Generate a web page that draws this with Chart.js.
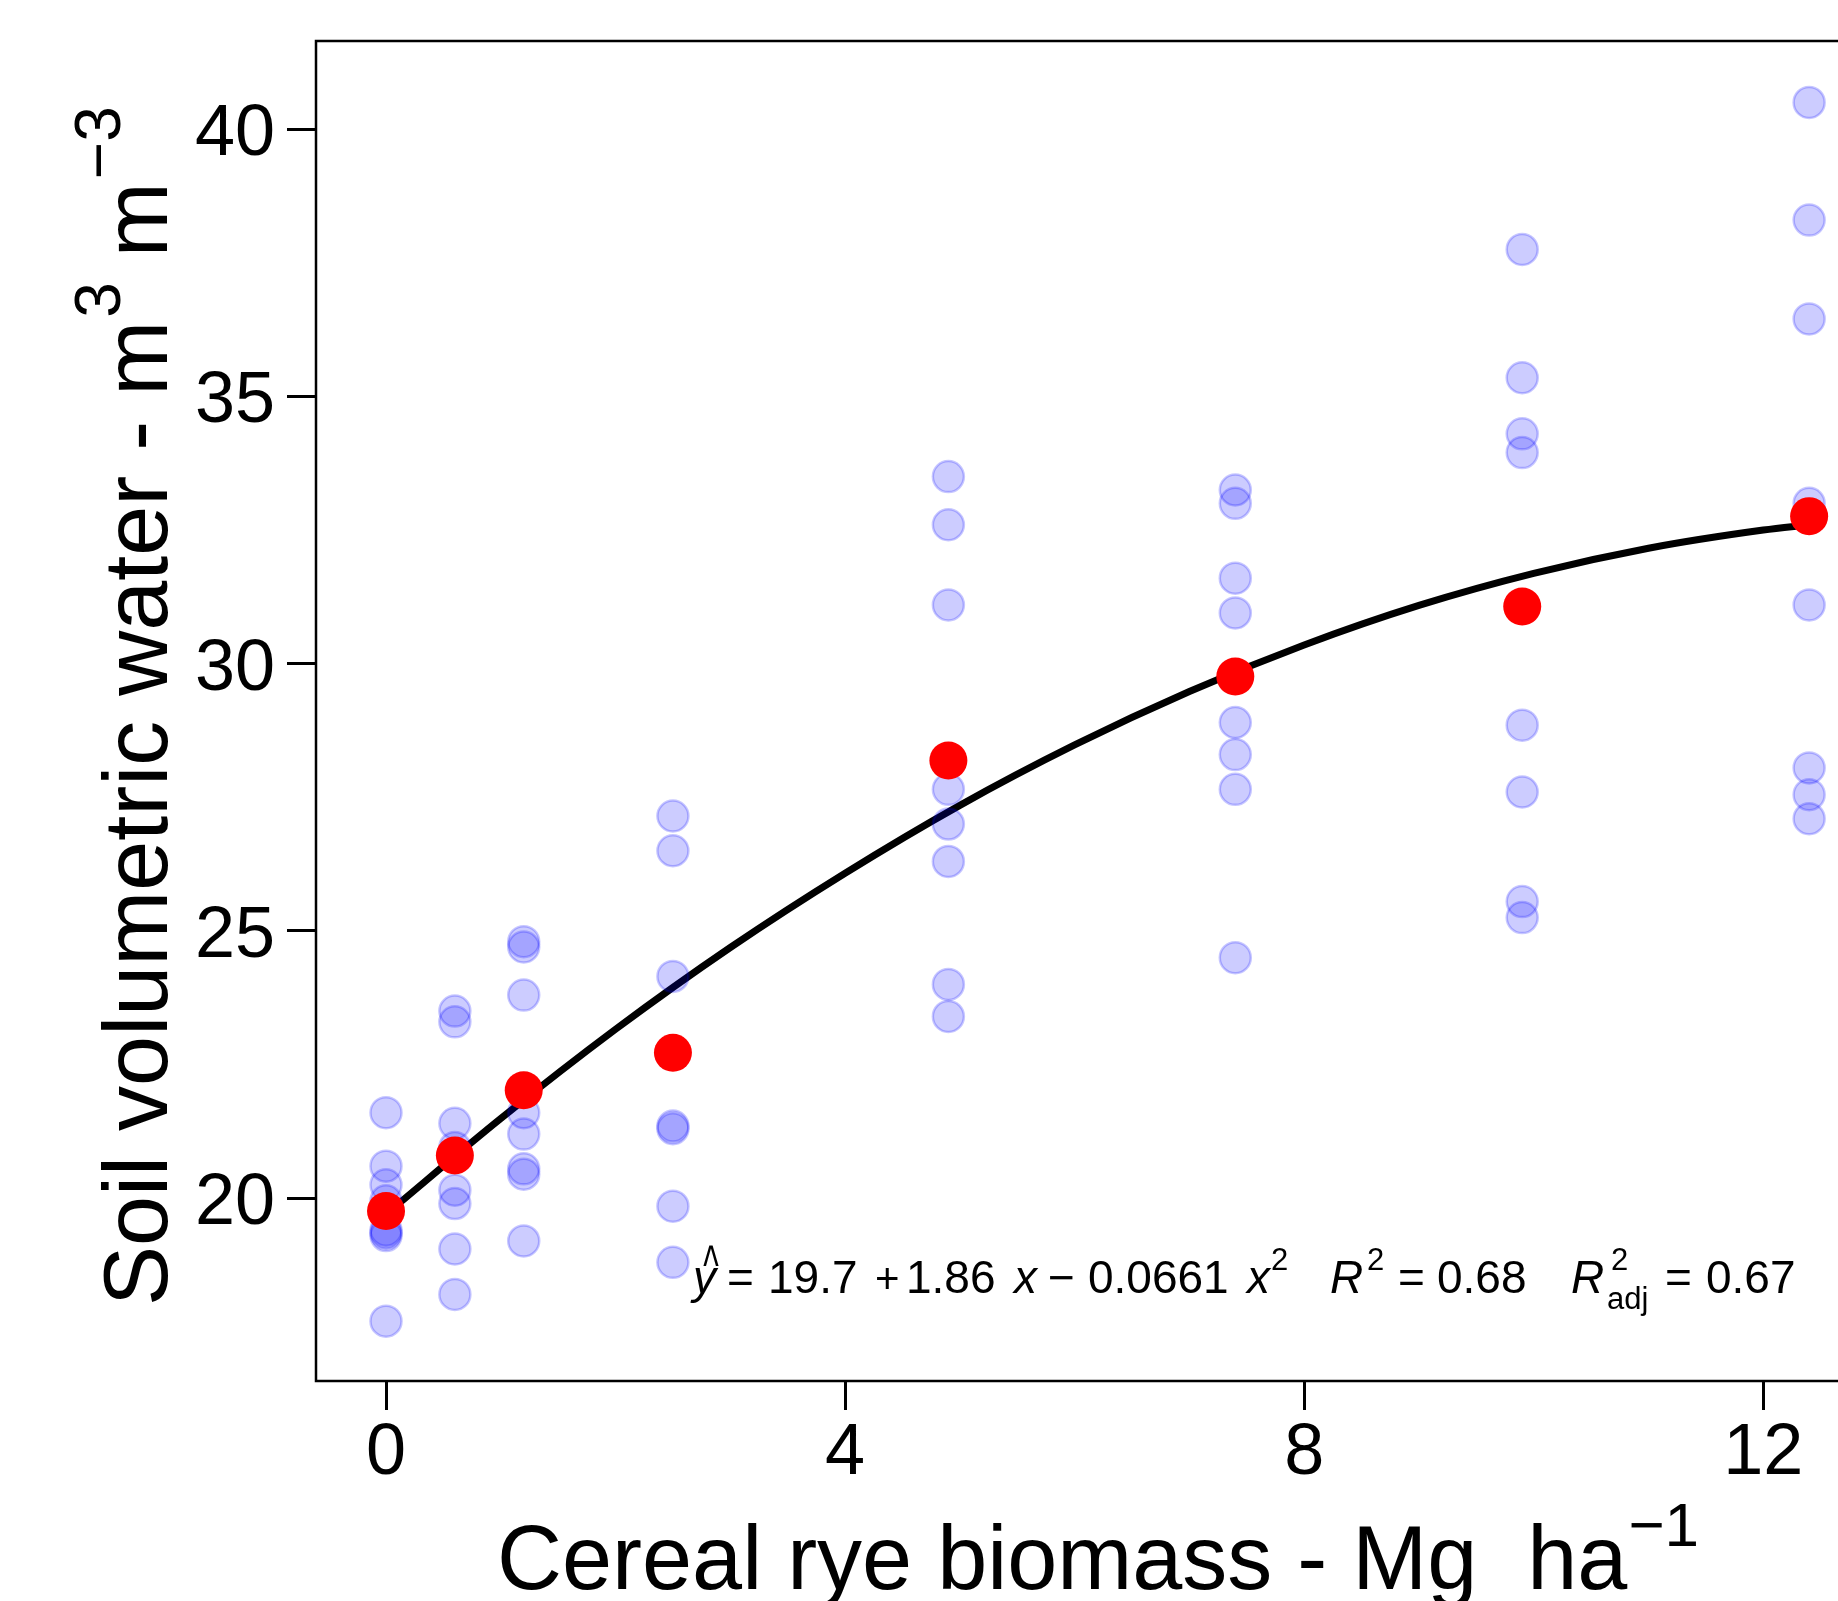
<!DOCTYPE html>
<html>
<head>
<meta charset="utf-8">
<script src="https://cdn.jsdelivr.net/npm/chart.js@4.4.1/dist/chart.umd.min.js"></script>
<style>
  html, body { margin: 0; padding: 0; background: #fff; overflow: hidden; }
  #wrap { width: 1880px; height: 1601px; }
</style>
</head>
<body>
<div id="wrap"><canvas id="chart" width="1880" height="1601"></canvas></div>
<script>
// biomass levels (Mg/ha)
const biomass = [0, 0.6, 1.2, 2.5, 4.9, 7.4, 9.9, 12.4];

// soil water readings per level (m3 m-3, %)
const obs00 = [21.6, 20.6, 20.25, 19.95, 19.4, 19.35, 19.3, 17.7];
const obs06 = [23.5, 23.3, 21.4, 20.95, 20.15, 19.9, 19.05, 18.2];
const obs12 = [24.8, 24.7, 23.8, 21.6, 21.2, 20.55, 20.45, 19.2];
const obs25 = [27.15, 26.5, 24.15, 22.7, 21.35, 21.3, 19.85, 18.8];
const obs49 = [33.5, 32.6, 31.1, 27.65, 27.0, 26.3, 24.0, 23.4];
const obs74 = [33.25, 33.0, 31.6, 30.95, 28.9, 28.3, 27.65, 24.5];
const obs99 = [37.75, 35.35, 34.3, 33.95, 28.85, 27.6, 25.55, 25.25];
const obs124 = [40.5, 38.3, 36.45, 33.0, 31.1, 28.05, 27.55, 27.1];

// level means (red dots)
const means = [19.76, 20.8, 22.02, 22.72, 28.19, 29.76, 31.07, 32.76];

// fitted quadratic
const fitX = [0, 1, 2, 3, 4, 5, 6, 7, 8, 9, 10, 11, 12, 12.4];
const fitY = [19.7, 21.49, 23.16, 24.69, 26.08, 27.35, 28.48, 29.48, 30.35, 31.09, 31.69, 32.16, 32.5, 32.6];

const xTicks = [0, 4, 8, 12];
const yTicks = [20, 25, 30, 35, 40];

const obsByLevel = [obs00, obs06, obs12, obs25, obs49, obs74, obs99, obs124];
const obsPoints = [];
obsByLevel.forEach((vals, i) => {
  vals.forEach(v => obsPoints.push({ x: biomass[i], y: v }));
});
const meanPoints = biomass.map((b, i) => ({ x: b, y: means[i] }));
const fitPoints = fitX.map((x, i) => ({ x: x, y: fitY[i] }));

const FONT = "'Liberation Sans', Arial, Helvetica, sans-serif";

function setFont(ctx, size, italic) {
  ctx.font = (italic ? 'italic ' : '') + size + 'px ' + FONT;
}

// draw text, return advance width
function txt(ctx, s, x, y, size, italic) {
  setFont(ctx, size, italic);
  ctx.fillText(s, x, y);
  return ctx.measureText(s).width;
}

// draw text so its ink starts at x
function ink(ctx, s, x, y, size, italic) {
  setFont(ctx, size, italic);
  const m = ctx.measureText(s);
  ctx.fillText(s, x + m.actualBoundingBoxLeft, y);
}

const decorations = {
  id: 'decorations',
  afterDraw(chart) {
    const ctx = chart.ctx;
    const a = chart.chartArea;
    ctx.save();
    // plot box
    ctx.strokeStyle = '#000';
    ctx.lineWidth = 2.5;
    ctx.strokeRect(a.left, a.top, a.right - a.left, a.bottom - a.top);

    ctx.fillStyle = '#000';
    ctx.textBaseline = 'alphabetic';
    ctx.textAlign = 'left';

    // x axis title
    let w = txt(ctx, 'Cereal rye biomass - Mg  ha', 497, 1589, 90, false);
    txt(ctx, '\u22121', 497 + w + 1, 1546, 62, false);

    // y axis title (rotated)
    ctx.save();
    ctx.translate(167, 1306);
    ctx.rotate(-Math.PI / 2);
    let p = 0;
    p += txt(ctx, 'Soil volumetric water - m', p, 0, 90, false);
    p += txt(ctx, '3', p + 3, -47, 64, false) + 3;
    p += txt(ctx, ' m', p, 0, 90, false);
    txt(ctx, '\u22123', p + 3, -47, 64, false);
    ctx.restore();

    // fit annotation
    const base = 1293;
    const sup = 1270;
    const fs = 46;
    ink(ctx, 'y', 690, base, fs, true);
    ctx.save();
    setFont(ctx, 44, false);
    const hm = ctx.measureText('^');
    ctx.translate(711, 1245 + hm.actualBoundingBoxAscent * 1.3);
    ctx.scale(0.75, 1.3);
    ctx.textAlign = 'center';
    ctx.fillText('^', 0, 0);
    ctx.restore();
    ink(ctx, '=', 729, base, fs, false);
    ink(ctx, '19.7', 771, base, fs, false);
    ink(ctx, '+', 877, base, 42, false);
    ink(ctx, '1.86', 909, base, fs, false);
    ink(ctx, 'x', 1012, base, fs, true);
    ink(ctx, '\u2212', 1050, base, fs, false);
    ink(ctx, '0.0661', 1089, base, fs, false);
    ink(ctx, 'x', 1245, base, fs, true);
    ink(ctx, '2', 1272, sup, 31, false);
    ink(ctx, 'R', 1331, base, fs, true);
    ink(ctx, '2', 1368, sup, 31, false);
    ink(ctx, '=', 1400, base, fs, false);
    ink(ctx, '0.68', 1438, base, fs, false);
    ink(ctx, 'R', 1572, base, fs, true);
    ink(ctx, '2', 1612, sup, 31, false);
    ink(ctx, 'adj', 1608, 1309, 31, false);
    ink(ctx, '=', 1667, base, fs, false);
    ink(ctx, '0.67', 1707, base, fs, false);
    ctx.restore();
  }
};

const tickGrid = {
  display: true,
  drawOnChartArea: false,
  drawTicks: true,
  tickLength: 29,
  tickWidth: 3,
  tickColor: '#000'
};

new Chart(document.getElementById('chart'), {
  type: 'scatter',
  data: {
    datasets: [
      {
        label: 'means',
        data: meanPoints,
        backgroundColor: '#ff0000',
        borderColor: '#ff0000',
        borderWidth: 0,
        pointRadius: 19,
        order: 0
      },
      {
        label: 'observations',
        data: obsPoints,
        backgroundColor: 'rgba(0, 0, 255, 0.2)',
        borderColor: 'rgba(0, 0, 255, 0.22)',
        borderWidth: 2.5,
        pointRadius: 15.5,
        order: 1
      },
      {
        type: 'line',
        label: 'fit',
        data: fitPoints,
        borderColor: '#000',
        borderWidth: 7,
        pointRadius: 0,
        fill: false,
        cubicInterpolationMode: 'monotone',
        order: 2
      }
    ]
  },
  options: {
    responsive: false,
    animation: false,
    events: [],
    layout: { autoPadding: false, padding: { top: 41, right: 2, bottom: 0, left: 0 } },
    plugins: { legend: { display: false }, tooltip: { enabled: false } },
    scales: {
      x: {
        type: 'linear',
        bounds: 'data',
        min: -0.61,
        max: 13.0,
        border: { display: false },
        grid: tickGrid,
        afterBuildTicks: s => { s.ticks = xTicks.map(v => ({ value: v })); },
        afterFit: s => {
          s.height = 220;
          s.paddingLeft = 0;
          s.paddingRight = 0;
        },
        ticks: {
          color: '#000',
          padding: 1,
          maxRotation: 0,
          font: { family: FONT, size: 72 }
        }
      },
      y: {
        type: 'linear',
        bounds: 'data',
        min: 16.58,
        max: 41.65,
        border: { display: false },
        grid: tickGrid,
        afterBuildTicks: s => { s.ticks = yTicks.map(v => ({ value: v })); },
        afterFit: s => {
          s.width = 316;
          s.paddingTop = 0;
          s.paddingBottom = 0;
        },
        ticks: {
          color: '#000',
          padding: 12,
          labelOffset: 6,
          font: { family: FONT, size: 72 }
        }
      }
    }
  },
  plugins: [decorations]
});
</script>
</body>
</html>
